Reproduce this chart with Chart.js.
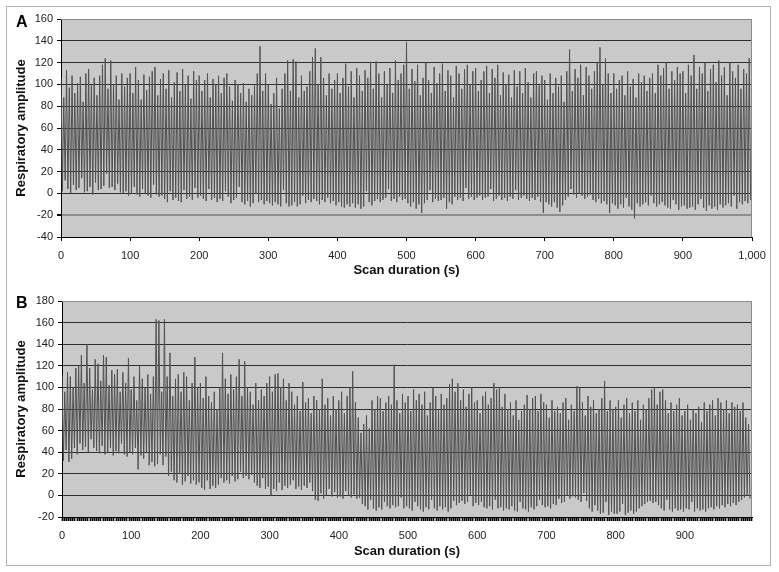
<!DOCTYPE html>
<html>
<head>
<meta charset="utf-8">
<script src="https://cdn.jsdelivr.net/npm/chart.js@4.4.1/dist/chart.umd.min.js"></script>
<style>
  body { margin: 0; background: #fff; width: 779px; height: 572px; position: relative; overflow: hidden; font-family: "Liberation Sans", Arial, sans-serif; }
  #frame { position: absolute; left: 6px; top: 6px; width: 763px; height: 558px; border: 1px solid #b4b4b4; }
  canvas { position: absolute; left: 0; }
  #chartA { top: 0; }
  #chartB { top: 280px; }
  .letter { position: absolute; font: bold 16px "Liberation Sans", Arial, sans-serif; line-height: 16px; color: #000; }
</style>
</head>
<body>
<div id="frame"></div>
<canvas id="chartA" width="779" height="282"></canvas>
<canvas id="chartB" width="779" height="292"></canvas>
<div class="letter" style="left:16px; top:14px;">A</div>
<div class="letter" style="left:16px; top:295px;">B</div>
<script>
// one breath every ~4 s; each cycle gives a peak then a trough
const CYCLE = 4;

// Panel A: peak / trough amplitude of each breath (0-1000 s)
const peaksA = [
  106, 88, 113, 97, 108, 92, 101, 107, 84, 110, 114, 99, 106, 90, 108, 118, 124, 96, 122, 100, 108, 86, 110, 98, 106,
  110, 92, 116, 104, 86, 109, 95, 107, 112, 116, 90, 105, 110, 96, 113, 88, 102, 111, 94, 114, 100, 108, 87, 112, 104,
  108, 94, 104, 110, 88, 105, 100, 108, 92, 106, 110, 98, 85, 104, 100, 92, 101, 84, 96, 90, 99, 110, 135, 94, 110,
  100, 82, 92, 106, 78, 96, 110, 122, 94, 123, 121, 88, 108, 94, 98, 112, 125, 133, 100, 125, 106, 90, 110, 96, 104,
  110, 92, 106, 119, 98, 112, 88, 115, 108, 94, 113, 106, 120, 96, 121, 110, 88, 112, 100, 115, 92, 122, 104, 110, 118,
  139, 96, 114, 103, 118, 90, 106, 120, 104, 92, 116, 101, 110, 119, 94, 113, 108, 88, 117, 110, 96, 114, 118, 100, 112,
  115, 94, 104, 112, 117, 92, 114, 106, 118, 90, 111, 100, 109, 88, 113, 98, 112, 92, 115, 102, 88, 110, 112, 99, 108,
  104, 86, 110, 92, 106, 98, 108, 84, 112, 132, 94, 114, 106, 118, 90, 116, 108, 96, 112, 120, 134, 100, 124, 110, 92,
  110, 96, 104, 108, 90, 112, 98, 105, 88, 110, 102, 108, 94, 106, 110, 92, 118, 108, 115, 120, 96, 112, 104, 116, 110,
  112, 92, 118, 108, 127, 96, 116, 110, 120, 94, 114, 118, 102, 122, 108, 116, 90, 120, 112, 106, 118, 96, 114, 110, 124
];
const troughsA = [
  2, 12, 4, 0, 8, 3, 5, 14, 1, 2, 6, -1, 10, 3, 4, 7, 18, 5, 6, 3, 9, 1, 0, 2, -2,
  0, 6, -1, -3, 4, 0, -2, -4, 8, -1, -3, -2, -5, -8, 2, -6, -4, -7, -8, 3, -5, -3, -6, 5, -4,
  -2, -5, -7, 4, -6, -4, -8, -5, -7, 2, -3, -9, -6, -4, 6, -8, -10, -7, -12, -9, 0, -8, -6, -10, -7,
  -9, -11, -8, -10, -12, 3, -9, -12, -11, -8, -12, -10, -2, -9, -6, -8, -5, -7, -10, -6, -8, -4, -9, -7, -11,
  -8, -12, -13, -10, -12, -9, -13, -10, -14, -12, 2, -8, -11, -7, -5, -8, -6, -4, 4, -7, -5, -8, -3, -6, -5,
  -9, -12, -8, -14, -10, -18, -9, -6, 3, -8, -5, -7, -6, -4, -14, -8, -10, -3, -6, -4, -7, 5, -5, -3, -6,
  -4, -2, -6, -4, -3, 4, -7, -5, -2, -6, -4, -7, -3, -5, 3, -6, -4, -2, -5, -7, -4, -6, -3, -8, -18,
  -8, -10, -12, -8, -13, -17, -11, -6, -3, 4, -1, -4, 0, -2, -5, -3, -1, -6, -8, -5, -9, -7, -10, -18, -9,
  -11, -14, -10, -13, -4, -12, -15, -23, -9, -12, -10, -8, -11, -2, -9, -12, -10, -8, -11, -13, -14, -6, -10, -15, -12,
  -11, -14, -13, -12, -15, -10, -5, -13, -16, -11, -14, -12, -15, -10, -13, -11, -9, -12, -2, -14, -8, -10, -7, -9, -6
];

// Panel B: peak / trough amplitude of each breath (0-997 s)
const peaksB = [
  112, 96, 114, 110, 100, 118, 120, 130, 104, 140, 118, 98, 126, 122, 106, 130, 128, 102, 116, 112, 117, 96, 114, 104, 127,
  98, 110, 88, 120, 108, 100, 112, 94, 110, 163, 162, 96, 163, 110, 132, 92, 108, 112, 96, 114, 110, 88, 104, 128, 100,
  104, 90, 110, 92, 86, 96, 80, 100, 132, 108, 94, 112, 98, 110, 126, 92, 124, 100, 96, 84, 104, 88, 98, 92, 104,
  110, 96, 112, 113, 100, 108, 88, 104, 96, 84, 92, 78, 105, 86, 90, 76, 92, 88, 80, 108, 84, 90, 74, 92, 80,
  88, 96, 76, 92, 100, 115, 86, 72, 58, 66, 74, 62, 88, 80, 92, 90, 78, 86, 92, 84, 121, 88, 76, 94, 86,
  92, 78, 98, 88, 94, 84, 96, 74, 86, 100, 92, 80, 94, 84, 90, 103, 108, 96, 104, 88, 98, 82, 94, 100, 86,
  88, 76, 92, 96, 84, 90, 104, 98, 100, 82, 94, 80, 86, 74, 88, 70, 78, 84, 93, 80, 90, 92, 78, 94, 86,
  84, 72, 88, 78, 82, 76, 86, 90, 70, 84, 78, 101, 100, 86, 74, 92, 82, 88, 76, 80, 90, 106, 78, 88, 80,
  82, 88, 72, 84, 90, 76, 86, 78, 88, 70, 84, 80, 90, 98, 100, 84, 96, 98, 88, 76, 86, 78, 84, 90, 74,
  78, 84, 70, 80, 76, 82, 68, 86, 78, 84, 88, 74, 90, 86, 80, 88, 76, 86, 82, 84, 78, 86, 72, 66
];
const troughsB = [
  32, 42, 31, 34, 44, 38, 48, 42, 45, 40, 52, 44, 41, 39, 46, 38, 40, 44, 37, 41, 39, 48, 38, 36, 40,
  38, 44, 24, 37, 34, 40, 28, 31, 27, 29, 38, 28, 36, 18, 22, 14, 12, 20, 10, 13, 18, 11, 14, 10, 12,
  7, 5, 14, 6, 9, 7, 10, 16, 12, 14, 11, 18, 13, 15, 22, 16, 18, 15, 19, 12, 9, 7, 16, 6, 8,
  0, 6, 4, 12, 5, 9, 7, 10, 14, 6, 8, 5, 9, 7, 12, 4, -4, -5, 2, -3, 0, 6, -1, 3, -2,
  -1, -3, 4, 0, -2, 1, -3, -2, -8, -10, -13, -4, -12, -14, -11, -13, -6, -10, -12, -9, -11, -10, -2, -12, -10,
  -12, -14, -6, -10, -13, -15, -11, -13, -4, -12, -14, -10, -13, -11, -15, -12, -5, -9, -7, -5, -8, -6, 0, -10, -7,
  -9, -6, -11, -12, -10, -13, -4, -12, -11, -14, -12, -13, -10, -14, -15, -6, -12, -13, -15, -11, -13, -10, -4, -9, -11,
  -10, -12, -8, -9, -3, -7, -6, 0, -3, -1, -2, -4, -6, 2, -5, -12, -15, -9, -14, -17, -16, -6, -18, -15, -17,
  -17, -15, -8, -18, -16, -14, -17, -15, -12, -10, -8, -6, -5, -7, -6, -9, -12, -14, -4, -13, -15, -12, -14, -13, -15,
  -12, -13, -6, -15, -12, -14, -13, -15, -12, -11, -13, -10, -12, -9, -11, -8, -10, -7, -9, -6, -4, -2, 0, -3
];

// axis ranges
const yRangeA = [-40, 160];
const yRangeB = [-20, 180];
const Y_STEP = 20;
const X_STEP = 100;
const xMaxA = 1000;
const xMaxB = 997;

const TICK_FONT = { family: 'Liberation Sans, Arial, sans-serif', size: 11 };
const TITLE_FONT = { family: 'Liberation Sans, Arial, sans-serif', size: 13, weight: 'bold' };

// grey plot area like the old spreadsheet charts
const plotBg = {
  id: 'plotBg',
  beforeDraw(chart) {
    const { ctx, chartArea: a } = chart;
    ctx.save();
    ctx.fillStyle = '#c9c9c9';
    ctx.fillRect(a.left, a.top, a.right - a.left, a.bottom - a.top);
    ctx.restore();
  },
  afterDraw(chart) {
    const { ctx, chartArea: a } = chart;
    ctx.save();
    ctx.strokeStyle = '#8c8c8c';
    ctx.lineWidth = 1;
    ctx.beginPath();
    ctx.moveTo(a.left, a.top + 0.5);
    ctx.lineTo(a.right - 0.5, a.top + 0.5);
    ctx.lineTo(a.right - 0.5, a.bottom);
    ctx.stroke();
    ctx.restore();
  }
};

function breathPoints(peaks, troughs) {
  const pts = [];
  peaks.forEach((p, i) => {
    pts.push({ x: i * CYCLE, y: p });
    pts.push({ x: i * CYCLE + CYCLE / 2, y: troughs[i] });
  });
  return pts;
}

function makeChart(id, peaks, troughs, cfg) {
  return new Chart(document.getElementById(id), {
    type: 'line',
    data: {
      datasets: [{
        data: breathPoints(peaks, troughs),
        borderColor: '#525252',
        borderWidth: 1,
        pointRadius: 0,
        tension: 0
      }]
    },
    options: {
      responsive: false,
      animation: false,
      events: [],
      layout: { padding: { left: 8, right: 27, top: cfg.padTop, bottom: cfg.padBottom } },
      plugins: { legend: { display: false }, tooltip: { enabled: false } },
      scales: {
        x: {
          type: 'linear',
          min: 0,
          max: cfg.xMax,
          afterFit: s => { s.height = cfg.xHeight; },
          border: { color: '#000', width: 1 },
          grid: { drawOnChartArea: false, drawTicks: true, tickLength: 4, tickColor: '#000', tickWidth: cfg.xTickWidth },
          ticks: cfg.xTicks,
          title: { display: true, text: 'Scan duration (s)', color: '#111', font: TITLE_FONT, padding: { top: 0, bottom: 0 } }
        },
        y: {
          min: cfg.yRange[0],
          max: cfg.yRange[1],
          afterFit: s => { s.width = cfg.yWidth; },
          border: { color: '#000', width: 1 },
          grid: {
            color: c => c.tick.value === cfg.yRange[1] ? '#8c8c8c' : (c.tick.value === cfg.greyLine ? '#8e8e8e' : '#2e2e2e'),
            lineWidth: c => c.tick.value === cfg.greyLine ? 2 : 1,
            tickLength: 4,
            tickColor: '#000'
          },
          ticks: { stepSize: Y_STEP, font: TICK_FONT, color: '#222', padding: 4 },
          title: { display: true, text: 'Respiratory amplitude', color: '#111', font: TITLE_FONT, padding: { top: 6, bottom: 0 } }
        }
      }
    },
    plugins: [plotBg]
  });
}

makeChart('chartA', peaksA, troughsA, {
  padTop: 19, padBottom: 4, xHeight: 41, yWidth: 53,
  xMax: xMaxA, yRange: yRangeA, greyLine: -20, xTickWidth: 1,
  xTicks: { stepSize: X_STEP, font: TICK_FONT, color: '#222', padding: 8, maxRotation: 0 }
});

// B uses a dense category-style tick row along the time axis
makeChart('chartB', peaksB, troughsB, {
  padTop: 21, padBottom: 13, xHeight: 42, yWidth: 54,
  xMax: xMaxB, yRange: yRangeB, greyLine: null, xTickWidth: 1.7,
  xTicks: {
    stepSize: 3.125, includeBounds: false, autoSkip: false, maxRotation: 0,
    font: TICK_FONT, color: '#222', padding: 8,
    callback: v => (v % X_STEP === 0 ? String(v) : '')
  }
});
</script>
</body>
</html>
